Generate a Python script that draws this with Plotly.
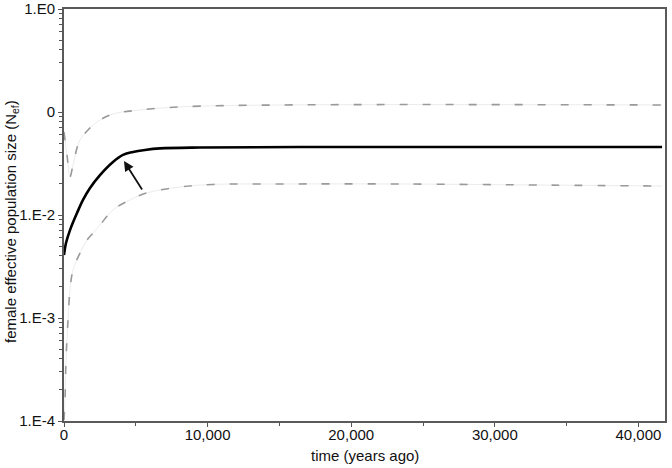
import math
import plotly.graph_objects as go

# Time (years ago) and female effective population size
t_median = [0, 139, 418, 905, 1323, 1811, 2507, 3412, 4109, 4805, 5641, 6685, 9471, 16435, 41645]
ne_median = [0.00409, 0.00535, 0.00714, 0.01045, 0.0140, 0.0183, 0.0244, 0.0327, 0.0383,
             0.0409, 0.0428, 0.0443, 0.0452, 0.0457, 0.0457]

t_upper = [0, 209, 418, 627, 905, 1114, 1671, 2298, 3412, 5293, 8078, 15042, 41645]
ne_upper = [0.064, 0.0383, 0.0234, 0.0306, 0.0447, 0.0534, 0.0668, 0.080, 0.0957, 0.1045,
            0.112, 0.117, 0.117]

t_lower = [0, 70, 139, 279, 418, 627, 1114, 1602, 2020, 2507, 3412, 4596, 5780, 8078,
           10376, 15042, 23399, 33845, 41645]
ne_lower = [1.02e-4, 1.6e-4, 3.9e-4, 9.57e-4, 1.87e-3, 2.92e-3, 4.27e-3, 5.71e-3, 6.68e-3,
            8.0e-3, 0.0112, 0.0140, 0.0164, 0.0187, 0.0198, 0.0200, 0.0200, 0.0195, 0.0191]

x_tickvals = [0, 10000, 20000, 30000, 40000]
x_ticktext = ["0", "10,000", "20,000", "30,000", "40,000"]
y_tickvals = [1e-4, 1e-3, 1e-2, 1e-1, 1]
y_ticktext = ["1.E-4", "1.E-3", "1.E-2", "0", "1.E0"]

arrow_head = (4178, 0.0334)
arrow_tail = (5502, 0.0171)

fig = go.Figure()
for tx, ny in [(t_upper, ne_upper), (t_lower, ne_lower)]:
    fig.add_trace(go.Scatter(x=tx, y=ny, mode="lines", line_shape="spline",
                             line=dict(color="#ececec", width=1), hoverinfo="skip",
                             showlegend=False))
    fig.add_trace(go.Scatter(x=tx, y=ny, mode="lines", line_shape="spline",
                             line=dict(color="#9a9a9a", width=1.6, dash="8px,15px"),
                             showlegend=False))
fig.add_trace(go.Scatter(x=t_median, y=ne_median, mode="lines", line_shape="spline",
                         line=dict(color="#000000", width=2.6), showlegend=False))

fig.add_annotation(x=arrow_head[0], y=math.log10(arrow_head[1]),
                   ax=arrow_tail[0], ay=math.log10(arrow_tail[1]),
                   xref="x", yref="y", axref="x", ayref="y",
                   showarrow=True, arrowhead=2, arrowsize=1.1, arrowwidth=1.8,
                   arrowcolor="#111111", text="")

font = dict(family="Liberation Sans, Arial, sans-serif", size=15, color="#111111")
minor_y = [m * 10 ** e for e in range(-4, 0) for m in range(2, 10)]

# axis titles placed as annotations for exact placement
fig.add_annotation(text="time (years ago)", xref="paper", yref="paper", x=0.5, y=0,
                   yshift=-34, yanchor="middle", showarrow=False, font=font)
fig.add_annotation(text="female effective population size (N<sub>ef</sub>)", xref="paper",
                   yref="paper", x=0, y=0.5, xshift=-53, yshift=-7, textangle=-90,
                   xanchor="center", yanchor="middle", showarrow=False, font=font)

fig.update_layout(
    width=672, height=468,
    margin=dict(l=64, r=7, t=9, b=47),
    paper_bgcolor="white", plot_bgcolor="white",
    font=font,
    xaxis=dict(range=[0, 41850], tickmode="array", tickvals=x_tickvals, ticktext=x_ticktext,
               ticks="outside", ticklen=4, tickwidth=1, tickcolor="#555",
               ticklabelstandoff=-5,
               minor=dict(tickmode="array", tickvals=[5000, 15000, 25000, 35000],
                          ticks="outside", ticklen=3, tickcolor="#555"),
               showline=True, linecolor="#5a5a5a", linewidth=2, mirror=True,
               showgrid=False, zeroline=False, automargin=False, tickfont=font),
    yaxis=dict(type="log", range=[-4, 0], tickmode="array", tickvals=y_tickvals,
               ticktext=y_ticktext, ticks="outside", ticklen=4, tickwidth=1, tickcolor="#555",
               minor=dict(tickmode="array", tickvals=minor_y, ticks="outside", ticklen=3,
                          tickcolor="#555"),
               showline=True, linecolor="#5a5a5a", linewidth=2, mirror=True,
               showgrid=False, zeroline=False, automargin=False, tickfont=font),
)

fig.write_html("out.html", config={"displayModeBar": False},
               post_script="document.body.style.margin='0';document.body.style.padding='0';")
